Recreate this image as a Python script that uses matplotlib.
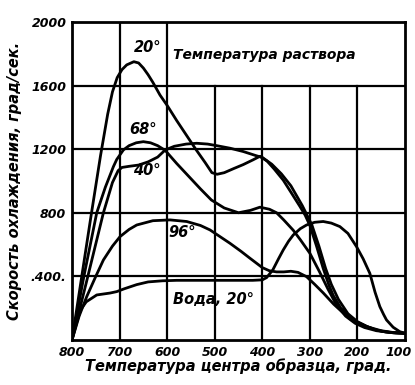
import matplotlib.pyplot as plt
from matplotlib.transforms import ScaledTranslation

# temperature of sample centre (deg) and cooling rate (deg/s) for each quench bath
t_20 = [800, 780, 760, 740, 725, 715, 705, 695, 685, 670, 660, 650, 640, 630, 615, 600, 580, 560,
        540, 520, 506, 495, 480, 460, 440, 420, 405, 390, 375, 356, 340, 321, 310, 300, 286, 272,
        260, 251, 235, 216, 200, 181, 165, 146, 125, 100]
v_20 = [0, 390, 780, 1160, 1420, 1560, 1650, 1700, 1730, 1750, 1742, 1710, 1668, 1620, 1540, 1475,
        1380, 1290, 1200, 1115, 1052, 1042, 1052, 1078, 1103, 1132, 1155, 1125, 1075, 1005, 930, 840,
        785, 720, 590, 450, 345, 280, 200, 148, 112, 85, 66, 53, 45, 42]

t_68 = [800, 775, 748, 730, 713, 706, 692, 680, 665, 650, 635, 620, 604, 580, 555, 530, 507, 480,
        450, 425, 405, 385, 370, 355, 335, 320, 300, 280, 262, 245, 225, 205, 185, 160, 130, 100]
v_68 = [0, 400, 800, 960, 1090, 1135, 1195, 1222, 1240, 1247, 1240, 1222, 1192, 1110, 1030, 950,
        880, 830, 800, 815, 835, 822, 800, 755, 690, 630, 545, 430, 320, 225, 150, 105, 78, 58, 47, 42]

t_40 = [800, 770, 734, 715, 703, 695, 680, 660, 640, 620, 604, 585, 560, 538, 515, 496, 468, 440,
        412, 400, 380, 360, 340, 316, 296, 281, 267, 255, 240, 220, 200, 180, 160, 140, 120, 100]
v_40 = [0, 360, 800, 990, 1065, 1085, 1092, 1100, 1120, 1150, 1195, 1218, 1232, 1237, 1232, 1222,
        1206, 1185, 1158, 1148, 1105, 1045, 970, 845, 725, 590, 450, 350, 255, 165, 115, 85, 62, 50, 44, 42]

t_96 = [800, 785, 769, 750, 734, 715, 699, 680, 664, 630, 594, 559, 530, 510, 490, 468, 445, 426,
        400, 385, 370, 355, 340, 325, 307, 290, 272, 250, 230, 210, 181, 150, 125, 100]
v_96 = [0, 150, 273, 400, 503, 590, 650, 695, 723, 750, 755, 745, 720, 692, 652, 608, 558, 514,
        455, 435, 428, 428, 432, 425, 398, 350, 296, 225, 170, 120, 84, 58, 47, 42]

t_water = [800, 790, 782, 770, 748, 720, 706, 690, 664, 640, 610, 580, 540, 500, 460, 420, 400, 391,
           378, 366, 356, 345, 335, 320, 307, 290, 272, 255, 237, 220, 202, 188, 174, 163, 153, 145,
           139, 125, 111, 100]
v_water = [0, 110, 189, 240, 283, 295, 304, 322, 348, 365, 372, 375, 375, 375, 375, 375, 378, 392,
           440, 510, 566, 620, 660, 700, 723, 740, 745, 735, 713, 670, 587, 510, 419, 300, 210, 160,
           126, 80, 52, 42]

curves = [(t_20, v_20), (t_68, v_68), (t_40, v_40), (t_96, v_96), (t_water, v_water)]

x_ticks = [800, 700, 600, 500, 400, 300, 200, 100]
y_ticks = [400, 800, 1200, 1600, 2000]
y_tick_labels = ['.400.', '800', '1200', '1600', '2000']

plt.rcParams['font.family'] = ['DejaVu Sans']
txt = dict(fontweight='bold', fontstyle='italic', color='black')

fig = plt.figure(figsize=(4.15, 3.85), dpi=100)
ax = fig.add_axes([0.1735, 0.117, 0.8025, 0.826])

# grid: 700 and 600 run to the top, the rest stop under the caption box at 1600
for x in x_ticks[1:-1]:
    top = 1.0 if x >= 600 else 1600 / 2000
    ax.axvline(x, ymax=top, color='black', lw=1.6, zorder=1)
for y in y_ticks[:-1]:
    ax.axhline(y, color='black', lw=1.6, zorder=1)

for t, v in curves:
    ax.plot(t, v, color='black', lw=2.0, solid_joinstyle='round', zorder=3)

ax.set_xlim(800, 100)
ax.set_ylim(0, 2000)
ax.set_xticks(x_ticks)
ax.set_xticklabels([str(x) for x in x_ticks], fontsize=9, **txt)
ax.set_yticks(y_ticks)
ax.set_yticklabels(y_tick_labels, fontsize=9, **txt)
ax.tick_params(length=0, pad=4)
for s in ax.spines.values():
    s.set_linewidth(2.0)

# last x label sits against the figure edge: nudge it left so it stays visible
last = ax.get_xticklabels()[-1]
last.set_transform(last.get_transform() + ScaledTranslation(-6 / 100, 0, fig.dpi_scale_trans))

ax.set_xlabel('Температура центра образца, град.', fontsize=10.5, labelpad=0, **txt)
ax.set_ylabel('Скорость охлаждения, град/сек.', fontsize=10.5, labelpad=6, **txt)

ax.text(640, 1840, '20°', fontsize=10.5, ha='center', va='center', **txt)
ax.text(588, 1795, 'Температура раствора', fontsize=10, ha='left', va='center', **txt)
ax.text(650, 1325, '68°', fontsize=10.5, ha='center', va='center', **txt)
ax.text(642, 1065, '40°', fontsize=10.5, ha='center', va='center', **txt)
ax.text(569, 673, '96°', fontsize=10.5, ha='center', va='center', **txt)
ax.text(588, 252, 'Вода, 20°', fontsize=10.5, ha='left', va='center', **txt)

fig.savefig('out.png', dpi=100)
